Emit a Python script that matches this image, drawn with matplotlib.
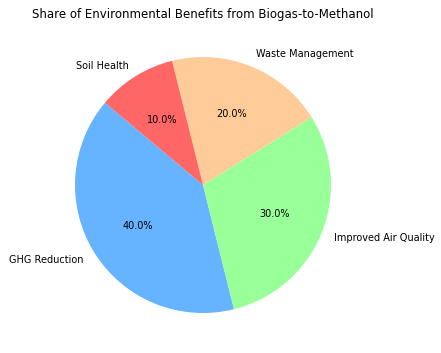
import matplotlib
matplotlib.use("Agg")
import matplotlib.pyplot as plt

labels = ['GHG Reduction', 'Improved Air Quality', 'Waste Management', 'Soil Health']
shares = [40, 30, 20, 10]
colors = ['#66b3ff', '#99ff99', '#ffcc99', '#ff6666']

fig = plt.figure(figsize=(4.41, 3.53), dpi=100)
# pie axes: center near (203, 185) px, radius about 128 px
ax = fig.add_axes([43 / 441, 8 / 353, 320 / 441, 320 / 353])

ax.pie(shares, labels=labels, colors=colors, autopct='%1.1f%%', startangle=140,
       textprops={'fontsize': 7})
ax.set_aspect('equal')
ax.set_title('Share of Environmental Benefits from Biogas-to-Methanol', fontsize=8.5, pad=5)

fig.savefig('out.png', dpi=100)
